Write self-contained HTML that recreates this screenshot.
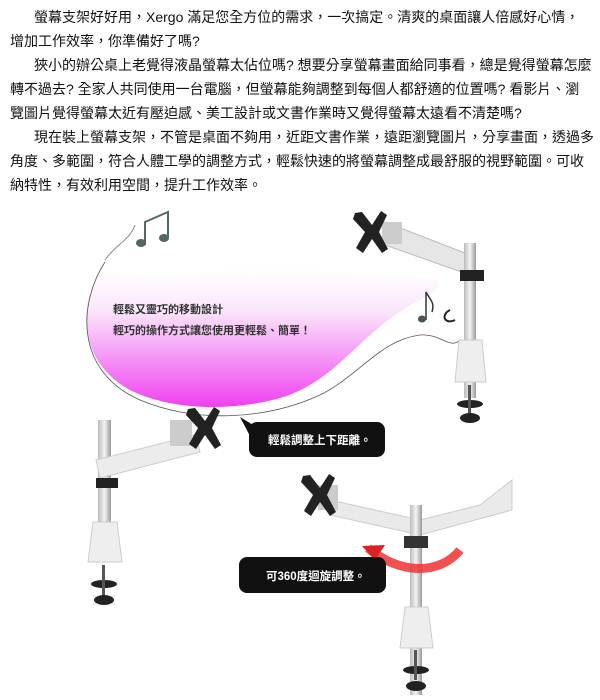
<!DOCTYPE html>
<html><head><meta charset="utf-8"><style>
html,body{margin:0;padding:0;background:#fff;width:600px;height:700px;overflow:hidden}
.t{position:absolute;left:10px;top:5px;width:590px;font-family:"Liberation Sans","Noto Sans CJK TC",sans-serif;font-size:14px;line-height:24px;color:#111;white-space:nowrap}
.t div{height:24px}
.i{padding-left:24px}
svg{position:absolute;left:0;top:0}
</style></head><body>
<div class="t">
<div class="i">螢幕支架好好用，Xergo 滿足您全方位的需求，一次搞定。清爽的桌面讓人倍感好心情，</div>
<div>增加工作效率，你準備好了嗎?</div>
<div class="i">狹小的辦公桌上老覺得液晶螢幕太佔位嗎? 想要分享螢幕畫面給同事看，總是覺得螢幕怎麼</div>
<div>轉不過去? 全家人共同使用一台電腦，但螢幕能夠調整到每個人都舒適的位置嗎? 看影片、瀏</div>
<div>覽圖片覺得螢幕太近有壓迫感、美工設計或文書作業時又覺得螢幕太遠看不清楚嗎?</div>
<div class="i">現在裝上螢幕支架，不管是桌面不夠用，近距文書作業，遠距瀏覽圖片，分享畫面，透過多</div>
<div>角度、多範圍，符合人體工學的調整方式，輕鬆快速的將螢幕調整成最舒服的視野範圍。可收</div>
<div>納特性，有效利用空間，提升工作效率。</div>
</div>
<svg width="600" height="700" viewBox="0 0 600 700">
<defs>
<linearGradient id="pk" x1="0" y1="0" x2="0" y2="1">
<stop offset="0" stop-color="#fff"/><stop offset="0.3" stop-color="#fbe6fb"/><stop offset="1" stop-color="#f040f0"/></linearGradient>
<linearGradient id="pole" x1="0" x2="1"><stop offset="0" stop-color="#bbb"/><stop offset="0.5" stop-color="#f4f4f4"/><stop offset="1" stop-color="#999"/></linearGradient>
<g id="x"><path d="M-17,-19 L-10,-20 L0,-7 L9,-21 L15,-17 L7,0 L16,17 L10,21 L0,7 L-9,21 L-16,16 L-7,0 L-19,-13 Z" fill="#222"/><circle r="7" fill="#222"/></g>
</defs>
<path d="M100,270 C80,300 75,360 130,390 C170,410 230,412 280,398 C340,380 360,330 420,300 C440,290 445,280 430,278 C350,270 250,265 170,275 C140,278 115,270 100,270 Z" fill="url(#pk)"/>
<path d="M105,262 C80,300 72,370 140,400 C200,425 270,418 320,395 C360,375 380,340 420,335 C440,333 450,350 460,340" fill="none" stroke="#555" stroke-width="0.8"/>
<text x="113" y="313" font-family="Liberation Sans,Noto Sans CJK TC,sans-serif" font-size="11" font-weight="bold" fill="#333">輕鬆又靈巧的移動設計</text>
<text x="113" y="334" font-family="Liberation Sans,Noto Sans CJK TC,sans-serif" font-size="11" font-weight="bold" fill="#333">輕巧的操作方式讓您使用更輕鬆、簡單！</text>
<path d="M145,245 L145,222 L168,212 L168,237" fill="none" stroke="#566" stroke-width="2"/>
<ellipse cx="141" cy="243" rx="5" ry="4" fill="#566"/><ellipse cx="164" cy="238" rx="5" ry="4" fill="#566"/>
<path d="M105,260 C115,245 130,240 135,225" fill="none" stroke="#888" stroke-width="1"/>
<path d="M426,320 L426,292 C430,300 435,302 432,312" fill="none" stroke="#333" stroke-width="1.5"/>
<ellipse cx="422" cy="319" rx="4" ry="3.5" fill="#455"/>
<path d="M450,310 C440,315 445,325 455,320" fill="none" stroke="#222" stroke-width="2"/>
<path d="M385,222 L470,255 L470,275 L385,245 Z" fill="#e6e6e6" stroke="#bbb"/>
<rect x="382" y="222" width="20" height="22" fill="#ccc"/>
<use href="#x" x="372" y="232"/>
<rect x="464" y="243" width="12" height="155" fill="url(#pole)"/>
<rect x="460" y="270" width="24" height="11" fill="#222"/>
<path d="M459,340 L482,340 L486,382 L455,382 Z" fill="#eee" stroke="#ccc"/>
<ellipse cx="470" cy="404" rx="13" ry="4" fill="#222"/><rect x="468" y="385" width="3" height="30" fill="#555"/><ellipse cx="470" cy="418" rx="10" ry="5" fill="#222"/>
<rect x="98" y="420" width="13" height="140" fill="url(#pole)"/>
<path d="M96,460 L195,435 L200,452 L100,478 Z" fill="#ececec" stroke="#ccc"/>
<rect x="170" y="420" width="22" height="26" fill="#ccc"/>
<rect x="96" y="478" width="22" height="10" fill="#222"/>
<use href="#x" x="205" y="428"/>
<path d="M93,522 L117,522 L122,562 L88,562 Z" fill="#eee" stroke="#ccc"/>
<ellipse cx="104" cy="584" rx="13" ry="4" fill="#222"/><rect x="102" y="565" width="3" height="30" fill="#555"/><ellipse cx="104" cy="600" rx="10" ry="5" fill="#222"/>
<path d="M240,417 L258,428 L250,436 Z" fill="#111"/>
<rect x="249" y="422" width="136" height="35" rx="8" fill="#111"/>
<text x="268" y="444" font-family="Liberation Sans,Noto Sans CJK TC,sans-serif" font-size="11.5" font-weight="bold" fill="#fff">輕鬆調整上下距離。</text>
<path d="M330,500 L420,520 L480,505 L512,480 L512,510 L420,535 L330,515 Z" fill="#eaeaea" stroke="#ccc"/>
<rect x="318" y="485" width="20" height="25" fill="#ccc"/>
<use href="#x" x="320" y="495"/>
<rect x="410" y="505" width="12" height="190" fill="url(#pole)"/>
<rect x="404" y="536" width="24" height="12" fill="#333"/>
<path d="M368,548 C400,575 440,575 460,550" fill="none" stroke="#e33" stroke-width="9" opacity="0.85"/>
<path d="M362,546 L385,545 L375,560 Z" fill="#d22"/>
<rect x="239" y="557" width="147" height="36" rx="8" fill="#111"/>
<text x="266" y="580" font-family="Liberation Sans,Noto Sans CJK TC,sans-serif" font-size="11.5" font-weight="bold" fill="#fff">可360度迴旋調整。</text>
<path d="M405,607 L428,607 L433,648 L400,648 Z" fill="#eee" stroke="#ccc"/>
<ellipse cx="416" cy="670" rx="13" ry="4" fill="#222"/><rect x="414" y="650" width="3" height="30" fill="#555"/><ellipse cx="416" cy="686" rx="10" ry="5" fill="#222"/>
</svg>
</body></html>
